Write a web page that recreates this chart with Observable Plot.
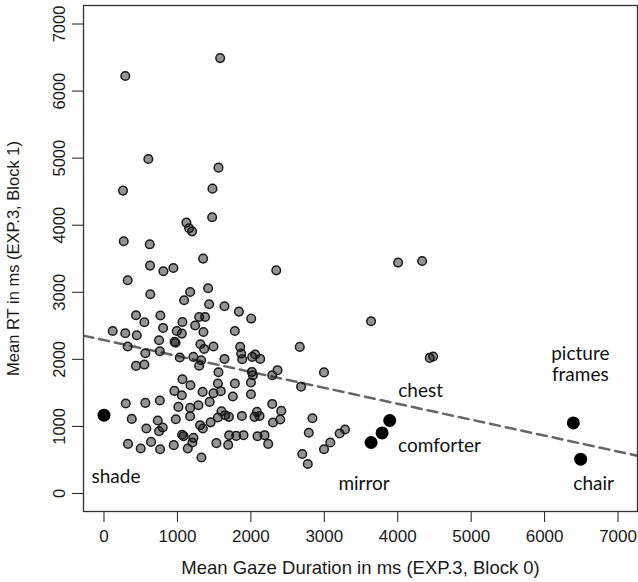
<!DOCTYPE html>
<html><head><meta charset="utf-8">
<script src="https://cdn.jsdelivr.net/npm/d3@7"></script>
<script src="https://cdn.jsdelivr.net/npm/@observablehq/plot@0.6"></script>
<style>body{margin:0;background:#fff;}</style>
</head><body><div id="chart"></div>
<script>
// Grey points: mean gaze duration (Block 0) vs mean RT (Block 1), in ms
const gazeX = [
  1582, 290, 604, 1559, 259, 1477, 1122, 1159, 1200, 1473, 269, 623, 1350,
  627, 809, 945, 323, 631, 1173, 1091, 1418, 1432, 436, 550, 768, 1068, 1296, 1377, 1241,
  119, 290, 446, 805, 991, 1060, 1354, 323, 750, 961, 975, 563, 760, 1032, 1218, 1313, 1364,
  1296, 436, 550,
  2346, 1641, 1837, 2005, 1782, 2666, 1491, 1855, 1868, 1882, 2018, 2059, 2127, 1641, 1323,
  1559, 2014, 2028, 2363, 2291, 2996,
  1068, 1177, 959, 1060, 1343, 296, 563, 760, 1013, 1173, 1286, 1439, 378, 732, 978, 1173,
  577, 800, 750, 1309, 1346, 1452, 327, 500, 641, 764, 950, 1064, 1084, 1218, 1204, 1141, 1327,
  2684, 1551, 1782, 2001, 1491, 1591, 1755, 2001, 2291, 2414, 2400, 2301, 1600, 1551, 1650,
  1701, 1878, 2050, 2082, 2118, 2839, 2789, 1705, 1800, 1900, 2091, 2186, 1531, 1691, 2236,
  2700, 2775, 2996,
  4005, 4332, 3637, 4436, 4482, 3082, 3209, 3282
];
const rtY = [
  6492, 6224, 4987, 4858, 4516, 4545, 4039, 3954, 3908, 4118, 3760, 3715, 3502,
  3398, 3313, 3362, 3179, 2970, 3004, 2881, 3060, 2821, 2658, 2553, 2653, 2557, 2632, 2632, 2504,
  2423, 2389, 2359, 2468, 2423, 2384, 2408, 2191, 2285, 2262, 2247, 2091, 2121, 2027, 2036, 2225, 2155,
  1905, 1902, 1922,
  3327, 2791, 2712, 2608, 2423, 2185, 2191, 2185, 2086, 2001, 2036, 2072, 2006, 2006, 1987,
  1808, 1812, 1763, 1838, 1763, 1805,
  1703, 1614, 1529, 1465, 1514, 1341, 1350, 1386, 1291, 1276, 1316, 1365, 1112, 1088, 1107, 1152,
  969, 984, 928, 1018, 969, 1060, 739, 671, 769, 660, 720, 876, 854, 829, 760, 671, 537,
  1592, 1639, 1639, 1654, 1495, 1525, 1446, 1480, 1335, 1231, 1103, 1058, 1226, 1133, 1167,
  1142, 1156, 1142, 1216, 1156, 1122, 906, 869, 858, 869, 854, 869, 750, 724, 739,
  589, 440, 660,
  3443, 3467, 2568, 2021, 2042, 760, 894, 954
];

// Highlighted (black) items
const targetNames = ["shade", "mirror", "comforter", "chest", "picture\nframes", "chair"];
const targetX = [0, 3637, 3787, 3891, 6391, 6491];
const targetY = [1167, 760, 903, 1088, 1052, 511];

// Axis ticks and titles
const xTicks = [0, 1000, 2000, 3000, 4000, 5000, 6000, 7000];
const yTicks = [0, 1000, 2000, 3000, 4000, 5000, 6000, 7000];
const xTitle = "Mean Gaze Duration in ms (EXP.3, Block 0)";
const yTitle = "Mean RT in ms (EXP.3, Block 1)";

// Fitted regression line (dashed)
const fitIntercept = 2287;
const fitSlope = -0.2374;

const xDomain = [-279, 7265];
const yDomain = [-269, 7276];

const others = gazeX.map((x, i) => ({x, y: rtY[i]}));
const targets = targetNames.map((name, i) => ({name, x: targetX[i], y: targetY[i]}));
const fitLine = xDomain.map(x => ({x, y: fitIntercept + fitSlope * x}));

const labelStyle = {
  "shade": {dx: 12, dy: 61, textAnchor: "middle"},
  "mirror": {dx: -7, dy: 41, textAnchor: "middle"},
  "comforter": {dx: 16, dy: 12, textAnchor: "start"},
  "chest": {dx: 8.5, dy: -30, textAnchor: "start"},
  "picture\nframes": {dx: 7, dy: -59, textAnchor: "middle"},
  "chair": {dx: 13, dy: 24, textAnchor: "middle"}
};

const chart = Plot.plot({
  width: 638,
  height: 582,
  marginLeft: 83,
  marginRight: 1,
  marginTop: 5,
  marginBottom: 71,
  style: {fontFamily: "'Liberation Sans', Arial, sans-serif", fontSize: "16px", color: "#1a1a1a", background: "#fff"},
  x: {domain: xDomain},
  y: {domain: yDomain},
  marks: [
    Plot.axisX(xTicks, {
      tickSize: 11, tickPadding: 7, fontSize: 17,
      tickFormat: d => String(d),
      label: null
    }),
    Plot.text([xTitle], {
      text: d => d, frameAnchor: "bottom", dy: 62, lineAnchor: "bottom",
      fontSize: 18.5, fill: "#1a1a1a"
    }),
    Plot.axisY(yTicks, {
      tickSize: 11, tickPadding: 8, tickRotate: -90, fontSize: 16.5,
      tickFormat: d => String(d),
      label: yTitle,
      labelAnchor: "center", labelOffset: 76, labelArrow: "none"
    }),
    Plot.line(fitLine, {x: "x", y: "y", stroke: "#666", strokeWidth: 2.5, strokeDasharray: "10,6", clip: true}),
    Plot.dot(others, {x: "x", y: "y", r: 4.3, fill: "#000", fillOpacity: 0.42, stroke: "#1a1a1a", strokeWidth: 1.5}),
    Plot.dot(targets, {x: "x", y: "y", r: 6.5, fill: "#000"}),
    ...targetNames.map(name => Plot.text(targets.filter(d => d.name === name), {
      x: "x", y: "y", text: "name",
      ...labelStyle[name],
      fontFamily: "Lato, 'Open Sans', sans-serif", fontSize: 19, lineHeight: 1.1, fill: "#111"
    })),
    Plot.frame({stroke: "#333", strokeWidth: 1.3})
  ]
});
document.getElementById("chart").appendChild(chart);
</script>
</body></html>
